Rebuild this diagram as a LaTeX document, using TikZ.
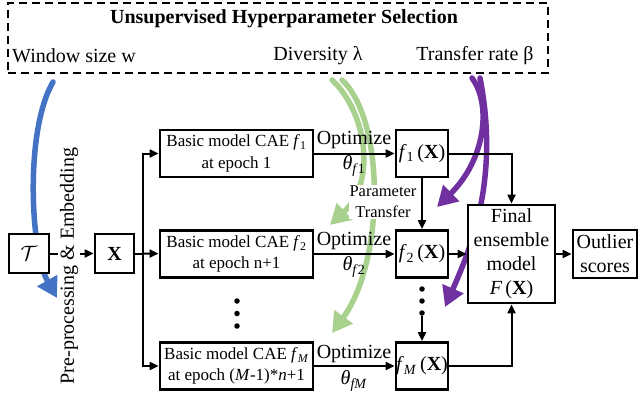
\documentclass[tikz,border=0pt]{standalone}
\usepackage{fontspec}
\setmainfont{Liberation Serif}
\usetikzlibrary{arrows.meta,calc}
\definecolor{cblue}{RGB}{68,114,196}
\definecolor{cgreen}{RGB}{169,209,142}
\definecolor{cpurple}{RGB}{112,48,160}
\newcommand\fA{\fontsize{20}{24}\selectfont}
\newcommand\fB{\fontsize{17}{21.5}\selectfont}
\newcommand\fC{\fontsize{16.5}{21}\selectfont}
\begin{document}
\begin{tikzpicture}[x=1pt,y=-1pt,
  box/.style={draw, line width=2.8pt, fill=white, inner sep=0pt, align=center},
  arr/.style={line width=2pt, -{Triangle[width=8pt,length=9pt]}},
  ln/.style={line width=2pt},
  dot/.style={circle, fill, inner sep=0pt, minimum size=5.5pt},
  fat/.style={line width=5.5pt, line cap=round, -{Triangle[width=22pt,length=20pt]}},
  lbl/.style={inner sep=0pt, font=\fA}]
\useasboundingbox (0,0) rectangle (642,393);
\fill[white] (0,0) rectangle (642,393);
% hyperparameter box
\node[draw, line width=1.6pt, dash pattern=on 8pt off 5pt, minimum width=540pt, minimum height=70pt, inner sep=0pt] (hps) at (278,38) {};
\node[lbl, font=\fA\bfseries] (title) at (284,19) {Unsupervised Hyperparameter Selection};
\node[lbl, anchor=west] (win) at (12,56) {Window size w};
\node[lbl] (div) at (318,56) {Diversity λ};
\node[lbl] (tr) at (475,56) {Transfer rate β};
% coloured curve ends
\coordinate (bs) at (53,82);  \coordinate (be) at (57,298);
\coordinate (gas) at (332,80); \coordinate (gae) at (330,225);
\coordinate (gbs) at (342,80); \coordinate (gbe) at (332,333);
\coordinate (pas) at (472,78); \coordinate (pae) at (437,207);
\coordinate (pbs) at (480,78); \coordinate (pbe) at (445,307);
\draw[fat, cblue] (bs) .. controls (25,130) and (30,250) .. (be);
\draw[fat, cgreen] (gas) .. controls (365,110) and (378,180) .. (gae);
\draw[fat, cgreen] (gbs) .. controls (385,120) and (385,260) .. (gbe);
\draw[fat, cpurple] (pas) .. controls (492,105) and (485,160) .. (pae);
\draw[fat, cpurple] (pbs) .. controls (500,180) and (470,250) .. (pbe);
% main nodes
\node[box, minimum width=40pt, minimum height=39pt] (T) at (29,253.5) {\fA$\mathcal{T}$};
\node[box, minimum width=39pt, minimum height=39pt] (X) at (114.5,253.5) {\fA\textbf{X}};
\node[box, minimum width=153pt, minimum height=47pt, font=\fB] (m1) at (236.5,153.5) {Basic model CAE \textit{f}\textsubscript{1}\\at epoch 1};
\node[box, minimum width=153pt, minimum height=47pt, font=\fB] (m2) at (236.5,254) {Basic model CAE \textit{f}\textsubscript{2}\\at epoch n+1};
\node[box, minimum width=153pt, minimum height=47pt, font=\fB] (mM) at (236.5,366) {Basic model CAE \textit{f}\textsubscript{\textit{M}}\\at epoch (\textit{M}-1)*\textit{n}+1};
\node[dot] (md1) at (237,301) {};
\node[dot] (md2) at (237,313.5) {};
\node[dot] (md3) at (237,326) {};
\node[box, minimum width=52pt, minimum height=47pt, font=\fA] (f1) at (422,153.5) {\textit{f}\textsubscript{1}\,(\textbf{X})};
\node[box, minimum width=52pt, minimum height=47pt, font=\fA] (f2) at (422,254) {\textit{f}\textsubscript{2}\,(\textbf{X})};
\node[box, minimum width=52pt, minimum height=47pt, font=\fA] (fM) at (422,366) {\textit{f}\textsubscript{\textit{M}}\,(\textbf{X})};
\node[dot] (fd1) at (422,289) {};
\node[dot] (fd2) at (422,301) {};
\node[dot] (fd3) at (422,313) {};
\node[box, minimum width=87pt, minimum height=98pt, font=\fA] (F) at (511.5,254) {Final\\ensemble\\model\\\textit{F}\,(\textbf{X})};
\node[box, minimum width=64pt, minimum height=48pt, font=\fA] (O) at (605,254) {Outlier\\scores};
% connectors
\draw[arr] (T) -- (X);
\node[rotate=90, fill=white, inner sep=2pt, font=\fA] (pre) at (69,266) {Pre-processing \& Embedding};
\coordinate (bus) at (143,253.5);
\draw[ln] (X) -- (bus);
\draw[arr] (bus) |- (m1);
\draw[arr] (bus) -- (m2);
\draw[arr] (bus) |- (mM);
\draw[arr] (m1) -- (f1);
\draw[arr] (m2) -- (f2);
\draw[arr] (mM) -- (fM);
\node[lbl] (o1) at (354,140) {Optimize};
\node[lbl] (t1) at (354,166) {\textit{θ}\textsubscript{\textit{f}1}};
\node[lbl] (o2) at (354,241) {Optimize};
\node[lbl] (t2) at (354,267) {\textit{θ}\textsubscript{\textit{f}2}};
\node[lbl] (oM) at (354,354) {Optimize};
\node[lbl] (tM) at (354,381) {\textit{θ}\textsubscript{\textit{fM}}};
\draw[arr] (f1) -- (f2);
\node[fill=white, inner sep=1pt, font=\fC, align=center] (pt) at (383,202) {Parameter\\Transfer};
\draw[arr] (fd3) -- (fM);
\draw[arr] (f1.east) -| (F.north);
\draw[arr] (f2) -- (F);
\draw[arr] (fM.east) -| (F.south);
\draw[arr] (F) -- (O);
\end{tikzpicture}
\end{document}
